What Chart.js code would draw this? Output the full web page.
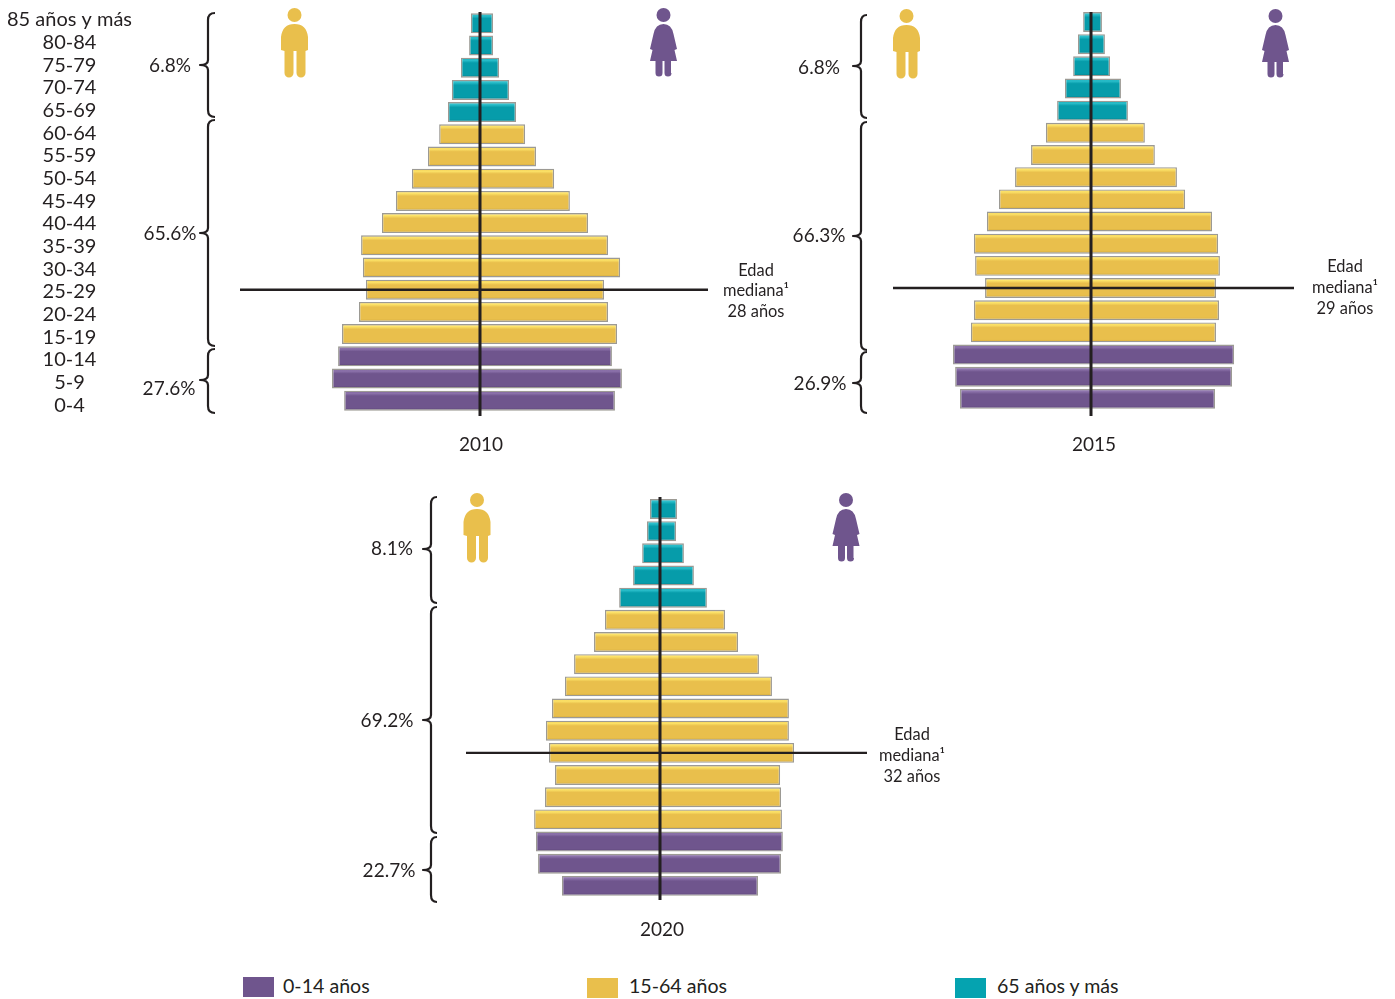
<!DOCTYPE html>
<html lang="es">
<head>
<meta charset="utf-8">
<title>Pirámides de población 2010, 2015, 2020</title>
<script src="https://cdn.jsdelivr.net/npm/chart.js@4/dist/chart.umd.min.js"></script>
<style>
  html, body { margin: 0; padding: 0; background: #fff; }
  #page { position: relative; width: 1395px; height: 999px; overflow: hidden; }
  canvas { position: absolute; }
  .swatch { position: absolute; width: 31px; height: 20px; }
  .legendText { position: absolute; font: 19.6px Lato, sans-serif; color: #231f20; line-height: 20px; }
</style>
</head>
<body>
<div id="page">
  <canvas id="c2010"></canvas>
  <canvas id="c2015"></canvas>
  <canvas id="c2020"></canvas>
  <div class="swatch" style="left:243px;top:977px;background:#6f558d"></div>
  <div class="legendText" style="left:283px;top:976px">0-14 años</div>
  <div class="swatch" style="left:587px;top:978px;background:#e9bf4c"></div>
  <div class="legendText" style="left:629px;top:976px">15-64 años</div>
  <div class="swatch" style="left:955px;top:978px;background:#05a3b0"></div>
  <div class="legendText" style="left:997px;top:976px">65 años y más</div>
</div>
<script>
(function(){
    'use strict';

    const ageGroups = ['85 años y más','80-84','75-79','70-74','65-69','60-64','55-59','50-54','45-49','40-44','35-39','30-34','25-29','20-24','15-19','10-14','5-9','0-4'];

    // percent of total population, men left and women right
    const men2010 = [0.30,0.36,0.63,0.93,1.06,1.35,1.72,2.25,2.78,3.24,3.93,3.87,3.77,4.00,4.56,4.69,4.89,4.49];
    const women2010 = [0.43,0.43,0.63,0.96,1.19,1.49,1.85,2.45,2.97,3.57,4.23,4.63,4.10,4.23,4.53,4.36,4.69,4.46];
    const men2015 = [0.26,0.43,0.59,0.86,1.12,1.49,1.98,2.51,3.04,3.44,3.87,3.83,3.50,3.87,3.97,4.56,4.49,4.33];
    const women2015 = [0.36,0.46,0.63,0.99,1.22,1.78,2.11,2.84,3.11,4.00,4.20,4.26,4.13,4.23,4.13,4.73,4.66,4.10];
    const men2020 = [0.33,0.43,0.59,0.89,1.35,1.82,2.18,2.84,3.14,3.57,3.77,3.67,3.47,3.80,4.16,4.10,4.03,3.24];
    const women2020 = [0.56,0.53,0.79,1.12,1.55,2.15,2.58,3.27,3.70,4.26,4.26,4.43,3.97,4.00,4.03,4.06,4.00,3.24];

    const shares2010 = ['6.8%','65.6%','27.6%'];
    const shares2015 = ['6.8%','66.3%','26.9%'];
    const shares2020 = ['8.1%','69.2%','22.7%'];
    const medianLabels = ['28 años','29 años','32 años'];
    const medianBands = ['25-29','25-29','30-34'];

    const INK = '#231f20';
    const FONT = 'Lato, sans-serif';
    const PX_PER_PCT = 30.26;
    const HALF_AREA = 250;

    // [light, base, dark] for 65+, 15-64, 0-14
    const TEAL = ['#2cc0cc','#069caa','#04808c'];
    const YELLOW = ['#fde469','#e9bf4c','#cfa63a'];
    const PURPLE = ['#8f75ae','#6f558d','#5c4577'];

    function bandColors(i){
        if(i < 5) return TEAL;
        if(i < 15) return YELLOW;
        return PURPLE;
    }

    // bevelled look of the bars
    function barFill(ctx){
        const chart = ctx.chart;
        if(ctx.dataIndex === undefined) return YELLOW[1];
        const cols = bandColors(ctx.dataIndex);
        const yScale = chart.scales.y;
        if(!yScale) return cols[1];
        const mid = yScale.getPixelForValue(ctx.dataIndex);
        if(!isFinite(mid)) return cols[1];
        const g = chart.ctx.createLinearGradient(0, mid - 10, 0, mid + 10);
        g.addColorStop(0, cols[1]);
        g.addColorStop(0.12, cols[0]);
        g.addColorStop(0.26, cols[1]);
        g.addColorStop(0.85, cols[1]);
        g.addColorStop(1, cols[2]);
        return g;
    }

    function drawMan(c, cx, top){
        c.fillStyle = '#e9bf4c';
        c.beginPath();
        c.arc(cx, top + 7, 7, 0, Math.PI * 2);
        c.fill();
        c.beginPath();
        c.moveTo(cx - 13.5, top + 42);
        c.lineTo(cx - 13.5, top + 29);
        c.quadraticCurveTo(cx - 12, top + 16, cx, top + 16);
        c.quadraticCurveTo(cx + 12, top + 16, cx + 13.5, top + 29);
        c.lineTo(cx + 13.5, top + 42);
        c.lineTo(cx + 11, top + 43);
        c.lineTo(cx + 11, top + 65);
        c.arc(cx + 6.5, top + 65, 4.5, 0, Math.PI);
        c.lineTo(cx + 2, top + 43);
        c.lineTo(cx - 1, top + 43);
        c.lineTo(cx - 1, top + 65);
        c.arc(cx - 5.5, top + 65, 4.5, 0, Math.PI);
        c.lineTo(cx - 10, top + 43);
        c.lineTo(cx - 13.5, top + 42);
        c.fill();
    }

    function drawWoman(c, cx, top){
        c.fillStyle = '#6f558d';
        c.beginPath();
        c.arc(cx, top + 7, 7, 0, Math.PI * 2);
        c.fill();
        c.beginPath();
        c.moveTo(cx, top + 16);
        c.quadraticCurveTo(cx + 8, top + 16, cx + 10, top + 26);
        c.lineTo(cx + 13.5, top + 41);
        c.lineTo(cx + 11, top + 42);
        c.lineTo(cx + 13.5, top + 53);
        c.lineTo(cx + 7.5, top + 53);
        c.lineTo(cx + 7.5, top + 65);
        c.arc(cx + 4.5, top + 65, 3.5, 0, Math.PI);
        c.lineTo(cx + 1, top + 53);
        c.lineTo(cx - 1, top + 53);
        c.lineTo(cx - 1, top + 65);
        c.arc(cx - 4.5, top + 65, 3.5, 0, Math.PI);
        c.lineTo(cx - 8, top + 53);
        c.lineTo(cx - 13.5, top + 53);
        c.lineTo(cx - 11, top + 42);
        c.lineTo(cx - 13.5, top + 41);
        c.lineTo(cx - 10, top + 26);
        c.quadraticCurveTo(cx - 8, top + 16, cx, top + 16);
        c.fill();
    }

    function drawBrace(c, right, spine, tip, y0, yTip, y1){
        c.strokeStyle = INK;
        c.lineWidth = 2.2;
        c.lineJoin = 'round';
        c.beginPath();
        c.moveTo(right, y0);
        c.quadraticCurveTo(spine, y0, spine, y0 + 7);
        c.lineTo(spine, yTip - 5);
        c.quadraticCurveTo(spine, yTip, tip, yTip);
        c.quadraticCurveTo(spine, yTip, spine, yTip + 5);
        c.lineTo(spine, y1 - 7);
        c.quadraticCurveTo(spine, y1, right, y1);
        c.stroke();
    }

    // everything that is not a bar: axis lines, braces, icons, captions
    const overlay = {
        id: 'overlay',
        afterDatasetsDraw(chart, args, opts){
            const c = chart.ctx;
            const L = opts.left, T = opts.top;
            const x0 = chart.scales.x.getPixelForValue(0);
            const yMed = chart.scales.y.getPixelForValue(ageGroups.indexOf(opts.medianBand));
            c.save();
            c.strokeStyle = INK;
            c.lineWidth = 3;
            c.beginPath();
            c.moveTo(x0, opts.axisTop - T);
            c.lineTo(x0, opts.axisBottom - T);
            c.stroke();
            c.lineWidth = 2.4;
            c.beginPath();
            c.moveTo(opts.medLeft - L, yMed);
            c.lineTo(opts.medRight - L, yMed);
            c.stroke();

            drawMan(c, opts.manX - L, opts.iconTop - T);
            drawWoman(c, opts.womanX - L, opts.iconTop - T);

            c.fillStyle = INK;
            c.textAlign = 'center';
            c.textBaseline = 'middle';
            opts.braces.forEach(function(b, i){
                drawBrace(c, opts.braceRight - L, opts.braceSpine - L, opts.braceTip - L, b[0] - T, b[1] - T, b[2] - T);
                c.font = '19px ' + FONT;
                c.fillText(opts.shares[i], b[3] - L, b[4] - T + 1);
            });
            c.font = '19px ' + FONT;
            c.fillText(opts.year, opts.yearX - L, opts.yearY - T + 1);
            c.font = '16.4px ' + FONT;
            ['Edad', 'mediana¹', opts.medianLabel].forEach(function(t, i){
                c.fillText(t, opts.edadX - L, opts.edadY[i] - T + 1);
            });
            c.restore();
        }
    };

    function makePyramid(id, box, men, women, extra, withAges){
        const el = document.getElementById(id);
        el.style.left = box.left + 'px';
        el.style.top = box.top + 'px';
        el.width = box.width;
        el.height = box.height;

        const xCenter = box.center - box.left;
        const areaLeft = xCenter - HALF_AREA;
        const areaRight = box.width - xCenter - HALF_AREA;
        const areaTop = box.rowFirst - box.rowStep / 2 - box.top;
        const areaBottom = box.top + box.height - (box.rowFirst + box.rowStep * 17.5);
        const range = HALF_AREA / PX_PER_PCT;

        const scales = {
            x: { type: 'linear', stacked: true, min: -range, max: range, display: false },
            y: { type: 'category', stacked: true, labels: ageGroups, offset: true, display: false }
        };
        if(withAges){
            // the age labels run on a slightly wider pitch than the bars
            const first = 20 - box.top, pitch = 22.65;
            const h = box.rowStep * 18;
            scales.ages = {
                type: 'linear',
                position: 'left',
                reverse: true,
                offset: false,
                bounds: 'data',
                min: (areaTop - first) / pitch,
                max: (areaTop + h - first) / pitch,
                grid: { display: false, drawTicks: false },
                border: { display: false },
                afterFit(s){
                    s.width = areaLeft;
                    // labels must not push the chart area around
                    s.paddingTop = 0;
                    s.paddingBottom = 0;
                    s.paddingLeft = 0;
                    s.paddingRight = 0;
                },
                afterBuildTicks(s){ s.ticks = ageGroups.map(function(a, i){ return { value: i }; }); },
                ticks: {
                    crossAlign: 'center',
                    padding: areaLeft - 62 - 70,
                    autoSkip: false,
                    color: INK,
                    font: { family: FONT, size: 20 },
                    callback(v){ return ageGroups[v]; }
                }
            };
        }

        return new Chart(el, {
            type: 'bar',
            data: {
                labels: ageGroups,
                datasets: [
                    { label: 'Hombres', data: men.map(function(v){ return -v; }) },
                    { label: 'Mujeres', data: women }
                ]
            },
            options: {
                indexAxis: 'y',
                responsive: false,
                animation: false,
                barPercentage: 0.9,
                categoryPercentage: 1,
                backgroundColor: barFill,
                borderColor: '#9c9a94',
                borderWidth: 1.4,
                layout: { padding: { left: withAges ? 0 : areaLeft, right: areaRight, top: areaTop, bottom: areaBottom } },
                scales: scales,
                plugins: {
                    legend: { display: false },
                    tooltip: { enabled: false },
                    overlay: Object.assign({ left: box.left, top: box.top }, extra)
                }
            },
            plugins: [overlay]
        });
    }

    makePyramid('c2010',
        { left: 0, top: 0, width: 792, height: 470, center: 480, rowFirst: 23.3, rowStep: 22.2 },
        men2010, women2010,
        { year: '2010', yearX: 481, yearY: 444, axisTop: 12, axisBottom: 416, medLeft: 240, medRight: 708, medianBand: medianBands[0],
          manX: 294.5, womanX: 663.5, iconTop: 8, braceRight: 215, braceSpine: 208, braceTip: 200,
          braces: [[13,65,117,170,65],[120,233,346,170,233],[349,380,413,169,388]], shares: shares2010,
          medianLabel: medianLabels[0], edadX: 756, edadY: [270,290,311] },
        true);

    makePyramid('c2015',
        { left: 792, top: 0, width: 603, height: 470, center: 1091, rowFirst: 22, rowStep: 22.17 },
        men2015, women2015,
        { year: '2015', yearX: 1094, yearY: 444, axisTop: 12, axisBottom: 416, medLeft: 893, medRight: 1294, medianBand: medianBands[1],
          manX: 906.5, womanX: 1275.5, iconTop: 9, braceRight: 867, braceSpine: 861, braceTip: 853,
          braces: [[15,66,118,819,67],[122,236,350,819,235],[352,383,413,820,383]], shares: shares2015,
          medianLabel: medianLabels[1], edadX: 1345, edadY: [266,287,308] },
        false);

    makePyramid('c2020',
        { left: 340, top: 480, width: 620, height: 470, center: 660, rowFirst: 509, rowStep: 22.17 },
        men2020, women2020,
        { year: '2020', yearX: 662, yearY: 929, axisTop: 497, axisBottom: 900, medLeft: 466, medRight: 867, medianBand: medianBands[2],
          manX: 477, womanX: 846, iconTop: 493, braceRight: 437, braceSpine: 431, braceTip: 423,
          braces: [[497,549,603,392,548],[607,720,833,387,720],[837,870,902,389,870]], shares: shares2020,
          medianLabel: medianLabels[2], edadX: 912, edadY: [734,755,776] },
        false);
})();
</script>
</body>
</html>
